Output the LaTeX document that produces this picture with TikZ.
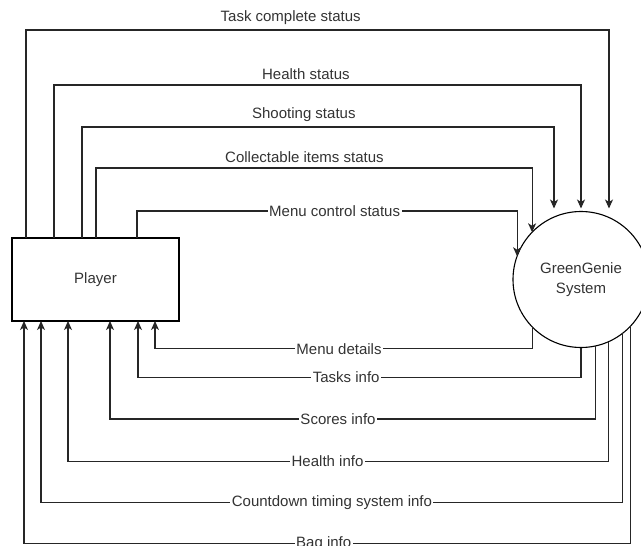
\documentclass[tikz,border=0pt]{standalone}
\usepackage{fontspec}
\setmainfont{Liberation Sans}
\usetikzlibrary{arrows.meta, positioning}
\tikzset{
    ->,
    >={Stealth[length=9pt, width=8pt, inset=2.5pt]},
    every node/.style={font=\fontsize{15}{17}\selectfont, text=black!80},
    flow/.style={line width=1.1pt, draw=black!85},
    lbl/.style={fill=white, inner sep=1.5pt},
    toplbl/.style={above=4pt, inner sep=1pt}
}

\begin{document}
\begin{tikzpicture}[x=1pt, y=-1pt]
    \useasboundingbox (0,0) rectangle (641,546);

    \node[draw, line width=1.1pt, minimum width=167pt, minimum height=83pt, outer sep=0pt] (player) at (95.5,279.5) {Player};
    \node[draw, circle, line width=1.1pt, minimum size=136pt, inner sep=0pt, outer sep=0pt, align=center,
          font=\fontsize{15}{20}\selectfont, right=334pt of player] (sys) {GreenGenie\\System};

    % player -> system
    \draw[flow] ([xshift=14pt]player.north west) -- ++(0,-208) -| node[toplbl, pos=0.227] {Task complete status} ([xshift=28pt, yshift=3pt]sys.north);
    \draw[flow] ([xshift=42pt]player.north west) -- ++(0,-153) -| node[toplbl, pos=0.239] {Health status} ([yshift=3pt]sys.north);
    \draw[flow] ([xshift=70pt]player.north west) -- ++(0,-111) -| node[toplbl, pos=0.235] {Shooting status} ([xshift=-27pt, yshift=3pt]sys.north);
    \draw[flow] ([xshift=84pt]player.north west) -- ++(0,-70) -| node[toplbl, pos=0.239] {Collectable items status} (sys.136);
    \draw[flow] ([xshift=125pt]player.north west) -- ++(0,-27) -| node[lbl, pos=0.26] {Menu control status} (sys.160);

    % system -> player
    \draw[flow] (sys.224) -- ++(0,22) -| node[lbl, pos=0.256] {Menu details} ([xshift=143pt]player.south west);
    \draw[flow] (sys.south) -- ++(0,30) -| node[lbl, pos=0.265] {Tasks info} ([xshift=126pt]player.south west);
    \draw[flow] (sys.282.7) -- ++(0,73) -| node[lbl, pos=0.265] {Scores info} ([xshift=98pt]player.south west);
    \draw[flow] (sys.294.3) -- ++(0,120) -| node[lbl, pos=0.26] {Health info} ([xshift=56pt]player.south west);
    \draw[flow] (sys.308.1) -- ++(0,169.5) -| node[lbl, pos=0.25] {Countdown timing system info} ([xshift=29pt]player.south west);
    \draw[flow] (sys.317.3) -- ++(0,218) -| node[lbl, pos=0.253] {Bag info} ([xshift=12pt]player.south west);
\end{tikzpicture}
\end{document}
